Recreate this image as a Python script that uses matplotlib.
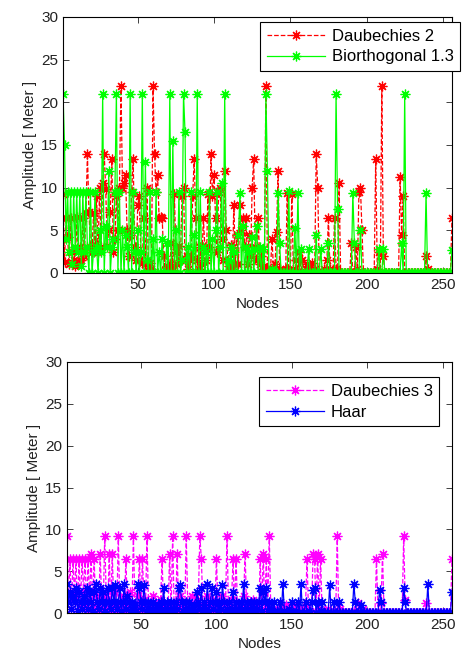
import numpy as np
import matplotlib
matplotlib.use("Agg")
import matplotlib.pyplot as plt

nodes = np.arange(1, 257)

# Top panel: Daubechies 2 (red, dashed) and Biorthogonal 1.3 (green, solid)
db2 = [
    9.2, 1.3, 6.5, 4.2, 1.0, 6.5, 2.5, 1.5, 0.8, 6.6, 1.2, 3.0, 1.5, 6.5, 2.0, 7.0,
    14.0, 7.2, 3.0, 2.5, 7.0, 3.3, 9.0, 2.5, 10.0, 3.0, 10.5, 14.0, 9.8, 3.2, 5.0, 7.2,
    13.4, 2.5, 4.0, 9.0, 5.0, 10.0, 21.9, 10.0, 10.5, 11.5, 5.0, 2.0, 4.5, 9.5, 13.4, 3.0,
    1.5, 8.0, 9.0, 2.5, 1.2, 6.5, 1.0, 10.0, 0.3, 1.2, 0.5, 21.9, 14.0, 9.5, 11.5, 6.5,
    6.6, 6.5, 2.0, 0.3, 0.8, 0.5, 1.0, 3.5, 0.4, 9.3, 2.5, 1.0, 3.2, 1.5, 9.0, 10.0,
    1.5, 2.0, 0.5, 1.5, 2.0, 9.0, 13.4, 6.5, 1.5, 0.5, 3.0, 1.0, 6.5, 3.0, 1.5, 9.2,
    3.0, 14.0, 9.0, 11.5, 6.5, 2.5, 9.5, 10.0, 4.0, 1.5, 12.0, 5.0, 1.5, 0.8, 3.3, 0.5,
    8.0, 1.0, 4.5, 1.0, 8.0, 5.0, 6.5, 3.0, 6.5, 1.0, 4.5, 2.0, 10.0, 13.4, 3.0, 1.5,
    6.5, 1.0, 2.0, 0.5, 0.8, 21.9, 0.5, 0.0, 0.3, 4.0, 0.5, 1.0, 4.8, 12.0, 0.5, 0.0,
    0.0, 0.0, 0.5, 9.4, 0.0, 0.0, 9.2, 0.5, 0.0, 1.5, 0.0, 2.5, 0.0, 1.5, 0.0, 0.5,
    1.0, 0.5, 0.0, 1.2, 0.0, 0.5, 14.0, 10.0, 0.0, 0.0, 0.0, 0.5, 0.0, 1.5, 6.5, 0.5,
    0.0, 0.0, 6.5, 0.5, 0.0, 10.5, 0.0, 0.0, 0.0, 0.0, 0.0, 0.0, 0.0, 3.5, 0.0, 0.0,
    3.0, 0.5, 9.5, 10.0, 5.0, 0.0, 0.0, 0.0, 0.0, 0.0, 0.0, 0.0, 0.0, 13.4, 0.5, 2.5,
    0.0, 21.9, 2.0, 0.0, 0.0, 0.0, 0.0, 0.0, 0.0, 0.0, 0.0, 0.0, 0.0, 11.3, 4.5, 9.0,
    0.0, 0.0, 0.0, 0.0, 0.0, 0.0, 0.0, 0.0, 0.0, 0.0, 0.0, 0.0, 0.0, 0.0, 2.0, 0.5,
    0.0, 0.0, 0.0, 0.0, 0.0, 0.0, 0.0, 0.0, 0.0, 0.0, 0.0, 0.0, 0.0, 0.0, 0.0, 6.5,
]
bior13 = [
    21.0, 15.0, 4.0, 9.5, 2.5, 9.5, 1.0, 9.5, 3.0, 9.5, 2.5, 9.5, 0.8, 9.5, 2.5, 9.5,
    3.0, 0.0, 9.5, 0.0, 2.5, 9.5, 3.0, 0.0, 5.0, 2.5, 21.0, 0.0, 5.5, 3.0, 12.0, 0.0,
    3.0, 4.0, 9.5, 21.0, 0.0, 9.5, 0.0, 5.0, 0.0, 4.5, 3.0, 0.0, 21.0, 0.0, 9.5, 2.5,
    0.0, 5.0, 0.0, 2.5, 21.0, 0.0, 13.0, 1.5, 0.0, 9.5, 0.0, 4.0, 0.0, 9.5, 0.0, 2.5,
    0.0, 4.0, 0.0, 0.0, 3.5, 0.0, 21.0, 0.0, 15.5, 0.0, 5.0, 0.0, 9.5, 0.0, 1.5, 21.0,
    16.5, 0.0, 3.0, 0.0, 9.5, 0.0, 4.5, 0.0, 21.0, 0.0, 9.5, 0.0, 3.0, 0.0, 2.5, 0.0,
    9.5, 0.0, 4.0, 0.0, 5.0, 9.5, 0.0, 3.0, 10.5, 0.0, 21.0, 0.0, 1.5, 0.0, 3.0, 0.0,
    2.5, 0.0, 0.0, 4.5, 9.4, 0.0, 5.5, 0.0, 3.0, 0.0, 2.5, 0.0, 4.2, 0.0, 2.8, 5.5,
    0.0, 3.0, 0.0, 2.8, 0.0, 21.0, 12.0, 0.0, 0.0, 0.5, 0.0, 0.0, 0.0, 9.4, 3.5, 0.0,
    0.0, 0.0, 0.0, 0.0, 9.6, 0.0, 0.0, 0.0, 5.3, 0.0, 9.4, 0.0, 2.8, 0.0, 0.0, 0.0,
    0.0, 2.8, 0.0, 0.0, 0.0, 0.0, 4.5, 0.0, 0.0, 2.8, 0.0, 0.0, 0.0, 0.0, 3.5, 0.0,
    0.0, 0.0, 0.0, 21.0, 7.5, 0.0, 0.0, 0.0, 0.0, 0.0, 0.0, 0.0, 0.0, 0.0, 9.4, 3.5,
    0.0, 0.0, 0.0, 5.0, 0.0, 0.0, 0.0, 0.0, 0.0, 0.0, 0.0, 0.0, 0.0, 0.0, 0.0, 2.8,
    0.0, 0.0, 2.8, 0.0, 0.0, 0.0, 0.0, 0.0, 0.0, 0.0, 0.0, 0.0, 0.0, 0.0, 3.5, 0.0,
    21.0, 0.0, 0.0, 0.0, 0.0, 0.0, 0.0, 0.0, 0.0, 0.0, 0.0, 0.0, 0.0, 0.0, 9.4, 0.0,
    0.0, 0.0, 0.0, 0.0, 0.0, 0.0, 0.0, 0.0, 0.0, 0.0, 0.0, 0.0, 0.0, 0.0, 0.0, 2.7,
]

# Bottom panel: Daubechies 3 (magenta, dashed) and Haar (blue, solid)
db3 = [
    9.2, 1.5, 6.5, 0.5, 6.5, 2.0, 6.5, 0.3, 6.5, 1.0, 6.5, 2.5, 6.5, 0.5, 6.5, 1.5,
    7.1, 0.5, 6.5, 1.0, 2.0, 0.3, 7.1, 1.5, 0.5, 9.2, 2.0, 0.5, 7.1, 0.3, 7.1, 1.0,
    2.5, 0.3, 9.2, 1.0, 0.5, 2.0, 0.3, 6.5, 1.0, 0.5, 2.5, 0.3, 9.2, 1.0, 0.5, 2.0,
    6.5, 0.5, 6.5, 1.5, 0.3, 9.2, 1.0, 0.5, 0.3, 2.0, 0.5, 1.0, 0.3, 0.5, 1.5, 6.5,
    0.5, 0.3, 1.0, 0.5, 7.1, 0.3, 9.2, 0.5, 1.0, 7.1, 0.3, 2.0, 0.5, 1.0, 0.3, 9.2,
    1.0, 0.5, 0.3, 2.0, 0.5, 1.0, 0.3, 1.5, 9.2, 6.5, 1.0, 0.5, 0.3, 2.0, 0.5, 1.0,
    0.3, 1.5, 0.5, 6.5, 1.0, 0.3, 0.5, 2.0, 0.3, 1.0, 9.2, 0.5, 0.3, 1.5, 6.5, 0.5,
    6.5, 0.3, 1.0, 0.5, 0.3, 2.0, 7.1, 0.5, 1.0, 0.3, 0.5, 1.5, 0.3, 0.5, 1.0, 0.3,
    6.5, 0.5, 7.1, 0.3, 6.5, 1.0, 9.2, 0.5, 0.3, 0.5, 0.0, 0.3, 0.0, 0.5, 0.0, 0.3,
    0.0, 1.0, 0.0, 0.3, 0.0, 0.5, 0.0, 0.0, 1.0, 0.0, 0.3, 0.0, 0.5, 0.0, 1.0, 6.5,
    0.0, 0.3, 0.0, 7.1, 6.5, 0.0, 7.1, 0.5, 6.5, 0.0, 0.3, 0.0, 0.0, 0.5, 0.0, 0.0,
    0.0, 0.3, 0.0, 9.2, 0.0, 0.5, 0.0, 0.0, 0.0, 0.0, 0.0, 0.0, 0.0, 0.0, 0.3, 0.0,
    0.0, 1.2, 0.0, 0.0, 0.5, 0.0, 0.0, 0.0, 0.0, 0.0, 0.0, 0.0, 0.0, 6.5, 0.0, 0.0,
    1.2, 7.1, 0.0, 0.0, 0.0, 0.0, 0.0, 0.0, 0.0, 0.0, 0.0, 0.0, 0.0, 0.0, 0.0, 9.2,
    1.5, 0.0, 0.0, 0.0, 0.0, 0.0, 0.0, 0.0, 0.0, 0.0, 0.0, 0.0, 0.0, 0.0, 1.2, 0.0,
    0.0, 0.0, 0.0, 0.0, 0.0, 0.0, 0.0, 0.0, 0.0, 0.0, 0.0, 0.0, 0.0, 0.0, 0.0, 6.5,
]
haar = [
    3.5, 1.3, 2.5, 0.5, 2.0, 1.3, 3.0, 0.3, 2.5, 1.3, 0.5, 2.0, 1.3, 3.0, 0.5, 2.5,
    1.3, 0.3, 2.5, 3.5, 1.3, 0.5, 3.0, 1.3, 2.5, 0.3, 1.3, 3.0, 1.3, 0.5, 3.0, 1.3,
    3.3, 0.5, 1.3, 3.0, 0.3, 1.3, 3.5, 0.5, 2.0, 1.3, 0.3, 1.3, 0.5, 1.0, 0.3, 3.5,
    3.0, 1.3, 0.5, 3.3, 1.3, 0.3, 1.3, 0.5, 0.3, 1.3, 0.5, 0.3, 1.0, 0.3, 1.3, 0.5,
    3.0, 0.3, 1.3, 0.5, 0.3, 1.3, 0.5, 0.3, 1.3, 0.5, 3.0, 3.3, 1.3, 0.3, 0.5, 1.3,
    0.3, 1.3, 0.5, 0.3, 1.0, 0.3, 2.5, 1.3, 0.5, 3.0, 0.3, 1.3, 0.5, 3.5, 0.3, 1.3,
    3.0, 0.5, 1.3, 2.5, 0.3, 1.3, 0.5, 3.3, 1.3, 0.3, 0.5, 1.3, 0.3, 0.5, 2.5, 0.3,
    1.3, 0.5, 0.3, 1.3, 0.5, 3.5, 0.3, 1.3, 0.5, 0.3, 1.3, 0.5, 1.3, 0.3, 0.5, 1.3,
    3.0, 0.3, 2.5, 1.3, 3.0, 0.3, 1.3, 0.5, 0.3, 1.3, 0.0, 0.3, 0.0, 1.3, 0.0, 3.5,
    0.3, 0.0, 0.0, 0.5, 0.0, 1.3, 0.0, 0.0, 0.3, 1.3, 0.0, 3.5, 0.0, 0.0, 1.3, 0.0,
    0.3, 0.0, 1.3, 2.8, 3.0, 0.0, 1.3, 0.0, 0.3, 1.3, 0.0, 0.0, 0.0, 0.0, 3.3, 0.0,
    0.0, 1.3, 0.0, 0.0, 1.3, 0.0, 0.0, 0.0, 0.0, 0.0, 0.0, 0.0, 0.0, 0.0, 3.5, 1.3,
    0.0, 0.0, 0.0, 1.0, 0.0, 0.0, 0.0, 0.0, 0.0, 0.0, 0.0, 0.0, 0.0, 0.0, 0.0, 2.8,
    1.3, 0.0, 0.0, 0.0, 0.0, 0.0, 0.0, 0.0, 0.0, 0.0, 0.0, 0.0, 0.0, 0.0, 0.0, 3.0,
    1.3, 0.0, 0.0, 0.0, 0.0, 0.0, 0.0, 0.0, 0.0, 0.0, 0.0, 0.0, 0.0, 0.0, 0.0, 3.5,
    0.0, 0.0, 0.0, 0.0, 0.0, 0.0, 0.0, 0.0, 0.0, 0.0, 0.0, 0.0, 0.0, 0.0, 0.0, 2.5,
]

star = (8, 2, 0)  # matlab-like asterisk
plt.rcParams['font.family'] = ['Liberation Sans', 'DejaVu Sans']

fig = plt.figure(figsize=(4.65, 6.52), dpi=100)
ax1 = fig.add_axes([0.1355, 0.5813, 0.8365, 0.3927])
ax2 = fig.add_axes([0.144, 0.0598, 0.828, 0.385])

def style(ax):
    ax.set_xlim(1, 256)
    ax.set_ylim(0, 30)
    ax.set_xticks([50, 100, 150, 200, 250])
    ax.set_yticks(range(0, 31, 5))
    ax.tick_params(direction='in', top=True, right=True, labelsize=11, length=4,
                   width=0.6, colors='#222222')
    for s in ax.spines.values():
        s.set_linewidth(0.8)
    ax.set_xlabel('Nodes', fontsize=11, labelpad=4, color='#222222')
    ax.set_ylabel('Amplitude [ Meter ]', fontsize=11, labelpad=3, color='#222222')

def add_legend(ax, anchor):
    leg = ax.legend(loc='upper right', bbox_to_anchor=anchor, fontsize=12,
                    fancybox=False, edgecolor='black', framealpha=1,
                    handlelength=3.5, handletextpad=0.4, borderaxespad=0.3,
                    labelspacing=0.35, borderpad=0.4)
    leg.get_frame().set_linewidth(0.8)

ax1.plot(nodes, db2, color='red', ls='--', lw=0.9, marker=star, ms=7, mew=0.9,
         label='Daubechies 2')
ax1.plot(nodes, bior13, color='#00ff00', ls='-', lw=0.9, marker=star, ms=7, mew=0.9,
         label='Biorthogonal 1.3')
style(ax1)
add_legend(ax1, (1.034, 1.0))

ax2.plot(nodes, db3, color='magenta', ls='--', lw=0.9, marker=star, ms=7, mew=0.9,
         label='Daubechies 3')
ax2.plot(nodes, haar, color='blue', ls='-', lw=0.9, marker=star, ms=7, mew=0.9,
         label='Haar')
style(ax2)
add_legend(ax2, (0.98, 0.96))

fig.savefig('out.png', dpi=100)
